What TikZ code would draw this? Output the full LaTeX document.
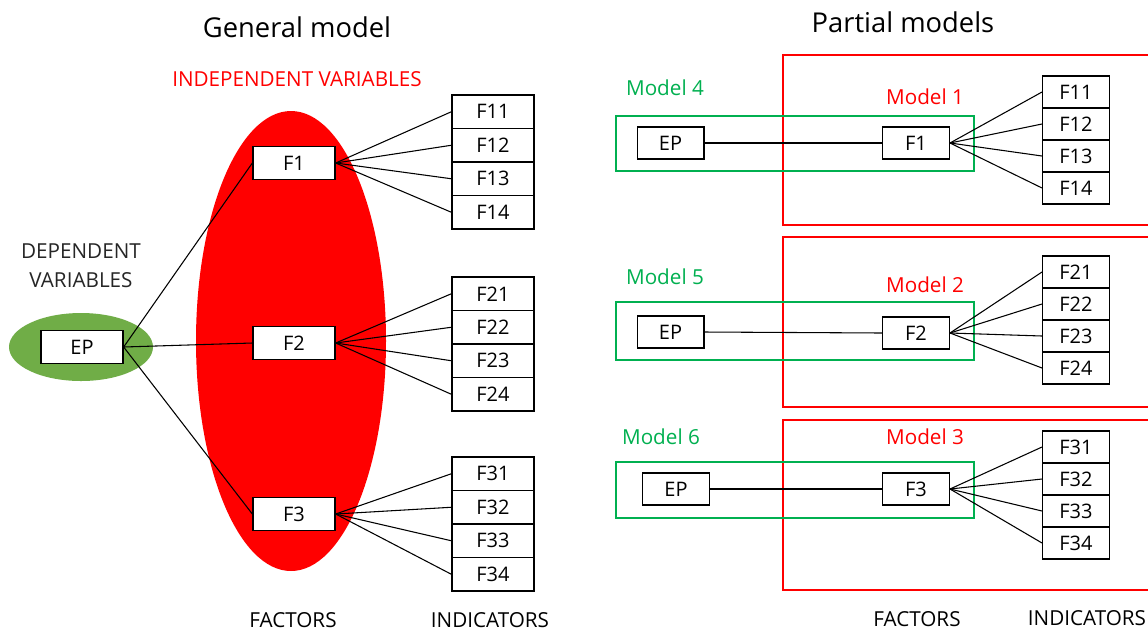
\documentclass[tikz,border=0pt]{standalone}
\usepackage{fontspec}
\setmainfont{Open Sans}
\definecolor{myred}{HTML}{FF0000}
\definecolor{mygreen}{HTML}{00B050}
\definecolor{ellgreen}{HTML}{70AD47}
\begin{document}
\begin{tikzpicture}[x=0.75pt,y=-0.75pt,
  box/.style={draw, line width=1pt, fill=white, inner sep=0pt, font=\fontsize{15}{17}\selectfont},
  bigbox/.style={box, minimum width=61.5pt, minimum height=25pt},
  smallbox/.style={box, minimum width=50pt, minimum height=24pt},
  lnk/.style={line width=0.8pt},
  lbl/.style={font=\fontsize{15.5}{22}\selectfont, align=center},
  ttl/.style={font=\fontsize{20.5}{24}\selectfont},
  redframe/.style={draw=myred, line width=1.6pt},
  greenframe/.style={draw=mygreen, line width=1.6pt}]
\useasboundingbox (0,0) rectangle (1148,633);
\fill[white] (0,0) rectangle (1148,633);
% ---------- General model ----------
\node[ttl] (t1) at (297,27) {General model};
\node[lbl, text=myred] (iv) at (297,79) {INDEPENDENT VARIABLES};
\fill[myred] (291,341) ellipse [x radius=95, y radius=230];
\fill[ellgreen] (81,347) ellipse [x radius=72, y radius=34];
\node[lbl, text=black!85] (dv) at (81,266) {DEPENDENT\\VARIABLES};
\node[bigbox] (EP) at (82,347) {EP};
\node[bigbox] (F1) at (294,163) {F1};
\node[bigbox] (F2) at (294,343) {F2};
\node[bigbox] (F3) at (294,514) {F3};
\foreach \g/\y in {1/95,2/277,3/457}{
  \foreach \i in {1,2,3,4}{
    \pgfmathsetmacro{\yy}{\y+16.75+(\i-1)*33.5}
    \node[bigbox, minimum height=25.1pt] (G\g\i) at (493,\yy) {F\g\i};
  }
}
\draw[lnk] (EP.east) -- (F1.west);
\draw[lnk] (EP.east) -- (F2.west);
\draw[lnk] (EP.east) -- (F3.west);
\foreach \g in {1,2,3}{
  \foreach \i in {1,2,3,4}{
    \draw[lnk] (F\g.east) -- (G\g\i.west);
  }
}
\node[lbl] (fac1) at (293,620) {FACTORS};
\node[lbl] (ind1) at (490,620) {INDICATORS};
% ---------- Partial models ----------
\node[ttl] (t2) at (903,22) {Partial models};
\begin{scope}
\clip (0,0) rectangle (1148,633);
\draw[redframe] (783,55) rectangle (1160,225);
\draw[redframe] (783,237) rectangle (1160,407);
\draw[redframe] (783,420) rectangle (1160,590);
\end{scope}
\draw[greenframe] (616,116) rectangle (974,171);
\draw[greenframe] (616,302) rectangle (974,360);
\draw[greenframe] (616,462) rectangle (974,518);
\node[lbl, text=mygreen] (m4) at (665,88) {Model 4};
\node[lbl, text=mygreen] (m5) at (665,277) {Model 5};
\node[lbl, text=mygreen] (m6) at (661,437) {Model 6};
\node[lbl, text=myred] (m1) at (925,97) {Model 1};
\node[lbl, text=myred] (m2) at (925,285) {Model 2};
\node[lbl, text=myred] (m3) at (925,437) {Model 3};
\node[smallbox] (PE1) at (670.5,143) {EP};
\node[smallbox] (PE2) at (670.5,332) {EP};
\node[smallbox] (PE3) at (676,489) {EP};
\node[smallbox] (P1) at (916,143) {F1};
\node[smallbox] (P2) at (916,333) {F2};
\node[smallbox] (P3) at (916,489) {F3};
\foreach \g/\y in {1/76,2/256,3/431}{
  \foreach \i in {1,2,3,4}{
    \pgfmathsetmacro{\yy}{\y+16+(\i-1)*32}
    \node[smallbox] (Q\g\i) at (1076,\yy) {F\g\i};
  }
}
\foreach \g in {1,2,3}{
  \draw[lnk] (PE\g.east) -- (P\g.west);
  \foreach \i in {1,2,3,4}{
    \draw[lnk] (P\g.east) -- (Q\g\i.west);
  }
}
\node[lbl] (fac2) at (917,619) {FACTORS};
\node[lbl] (ind2) at (1087,618) {INDICATORS};
\end{tikzpicture}
\end{document}
